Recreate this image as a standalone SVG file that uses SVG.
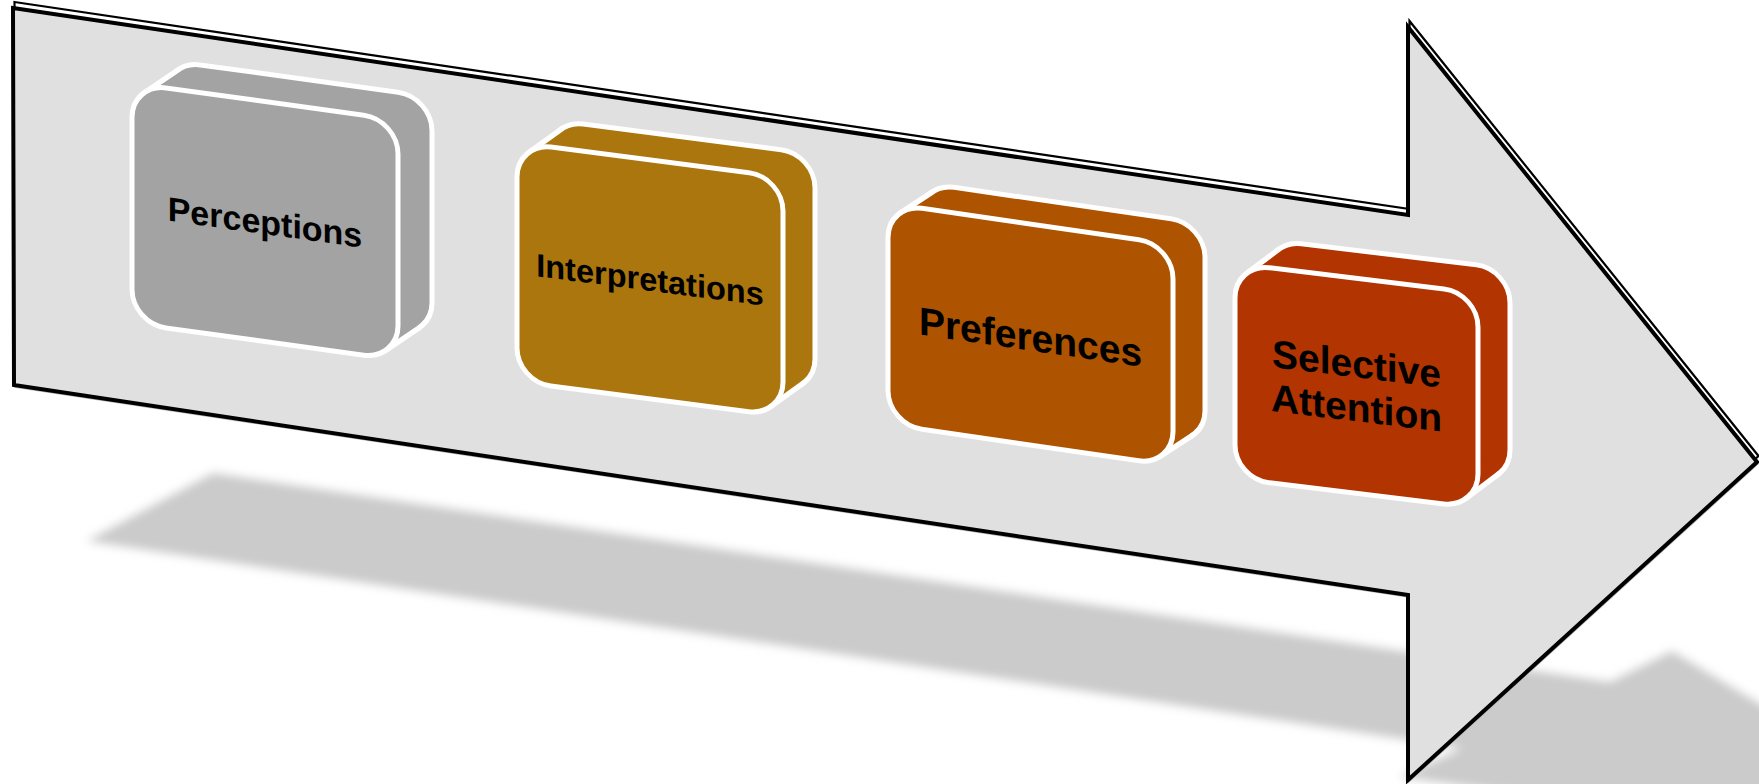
<svg xmlns="http://www.w3.org/2000/svg" width="1759" height="784" viewBox="0 0 1759 784">
  <defs>
    <style>
      .face{stroke:#fff;stroke-width:5;stroke-linejoin:round}
      .edge{stroke:#fff;stroke-width:5;stroke-linecap:round;fill:none}
      .lbl{font-family:"Liberation Sans",Arial,sans-serif;font-weight:bold;fill:#000;text-anchor:middle}
    </style>
    <filter id="soft" x="-10%" y="-30%" width="120%" height="160%">
      <feGaussianBlur stdDeviation="5"/>
    </filter>
    <path id="arrowShape" d="M13,8 L1408,215 L1408,27 L1757,462 L1408,780 L1408,595 L14,385 Z"/>
  </defs>

  <rect width="1759" height="784" fill="#fff"/>

  <!-- floor shadow cast by the arrow -->
  <g id="floor-shadow">
    <polygon points="87,541 213,473 1610,682 1672,651 1850,758 1850,840 1400,777 1462,748" fill="#cbcbcb" filter="url(#soft)"/>
  </g>

  <!-- the big process arrow, with its doubled outline -->
  <g id="connectors">
    <use href="#arrowShape" transform="translate(1.5,-6)" fill="none" stroke="#000" stroke-width="2.2"/>
    <use href="#arrowShape" transform="translate(0.8,2.2)" fill="none" stroke="#bdbdbd" stroke-width="1.2"/>
    <use href="#arrowShape" fill="#e0e0e0" stroke="#000" stroke-width="4"/>
  </g>

  <g id="nodes">
    <g id="node-perceptions" transform="translate(132,83.2) skewY(7.86)">
      <rect x="34" y="-27.7" width="266" height="240" rx="34" fill="#a3a3a3" class="face"/>
      <polygon points="12.53,7.64 46.53,-20.06 287.47,204.66 253.47,232.36" fill="#a3a3a3"/>
      <path d="M12.53,7.64 L46.53,-20.06 M253.47,232.36 L287.47,204.66" class="edge"/>
      <rect x="0" y="0" width="266" height="240" rx="34" fill="#a3a3a3" class="face"/>
      <text x="133" y="132.5" class="lbl" font-size="34">Perceptions</text>
    </g>

    <g id="node-interpretations" transform="translate(517,142.7) skewY(7.35)">
      <rect x="32" y="-27.1" width="266" height="239" rx="34" fill="#ab760d" class="face"/>
      <polygon points="12.03,8.05 44.03,-19.05 285.97,203.85 253.97,230.95" fill="#ab760d"/>
      <path d="M12.03,8.05 L44.03,-19.05 M253.97,230.95 L285.97,203.85" class="edge"/>
      <rect x="0" y="0" width="266" height="239" rx="34" fill="#ab760d" class="face"/>
      <text x="133" y="131" class="lbl" font-size="32.5">Interpretations</text>
    </g>

    <g id="node-preferences" transform="translate(888,203.4) skewY(8.25)">
      <rect x="32" y="-25.6" width="285" height="221" rx="34" fill="#ae5300" class="face"/>
      <polygon points="12.76,7.45 44.76,-18.15 304.24,187.95 272.24,213.55" fill="#ae5300"/>
      <path d="M12.76,7.45 L44.76,-18.15 M272.24,213.55 L304.24,187.95" class="edge"/>
      <rect x="0" y="0" width="285" height="221" rx="34" fill="#ae5300" class="face"/>
      <text x="142.5" y="126.5" class="lbl" font-size="39">Preferences</text>
    </g>

    <g id="node-selective-attention" transform="translate(1235,263.6) skewY(6.9)">
      <rect x="32" y="-27.9" width="243" height="215" rx="34" fill="#b23400" class="face"/>
      <polygon points="11.65,8.37 43.65,-19.53 263.35,178.73 231.35,206.63" fill="#b23400"/>
      <path d="M11.65,8.37 L43.65,-19.53 M231.35,206.63 L263.35,178.73" class="edge"/>
      <rect x="0" y="0" width="243" height="215" rx="34" fill="#b23400" class="face"/>
      <text class="lbl" font-size="39"><tspan x="121.5" y="99">Selective</tspan><tspan x="121.5" y="143">Attention</tspan></text>
    </g>
  </g>
</svg>
